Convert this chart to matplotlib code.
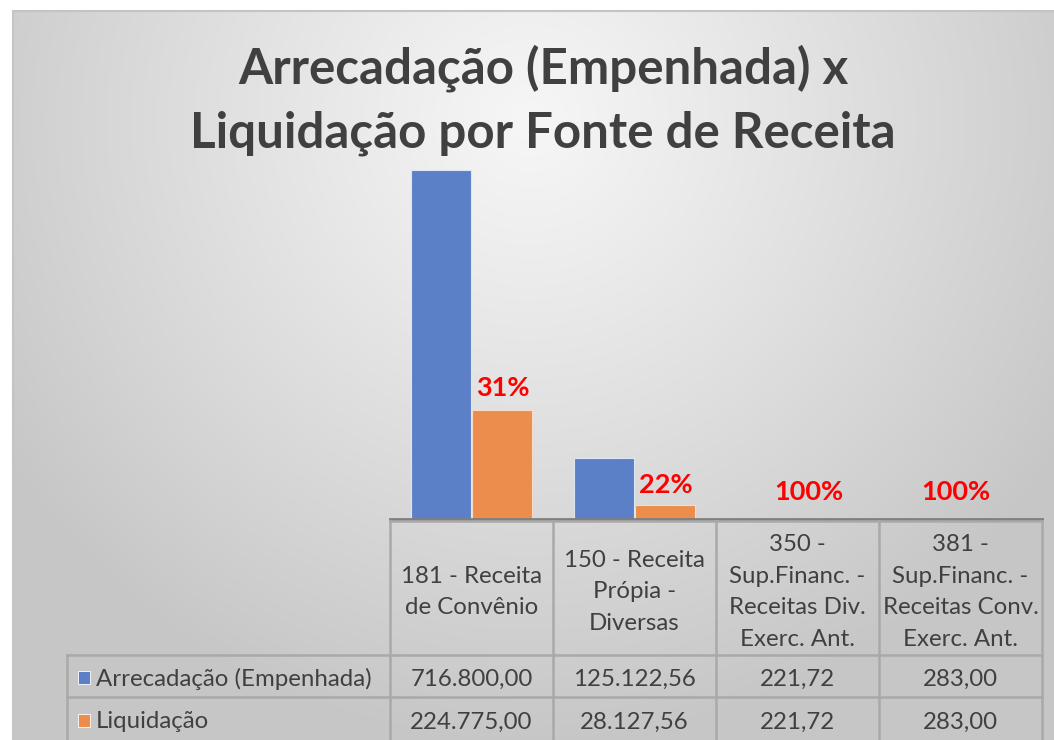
import numpy as np
import matplotlib
matplotlib.use("Agg")
import matplotlib.pyplot as plt
from matplotlib.patches import Rectangle

# ---------------- data ----------------
categories = ["181 - Receita\nde Convênio",
              "150 - Receita\nPrópia -\nDiversas",
              "350 -\nSup.Financ. -\nReceitas Div.\nExerc. Ant.",
              "381 -\nSup.Financ. -\nReceitas Conv.\nExerc. Ant."]
series_names = ["Arrecadação (Empenhada)", "Liquidação"]
arrecadacao = [716800.00, 125122.56, 221.72, 283.00]
liquidacao = [224775.00, 28127.56, 221.72, 283.00]
pct_labels = ["31%", "22%", "100%", "100%"]
title_lines = ["Arrecadação (Empenhada) x", "Liquidação por Fonte de Receita"]


def br(v):
    s = f"{v:,.2f}"
    return s.replace(",", "X").replace(".", ",").replace("X", ".")


W, H = 1054, 740
fig = plt.figure(figsize=(W / 100, H / 100), dpi=100)
fig.patch.set_facecolor("white")


def rect(x0, y0, x1, y1):
    # pixel coords (top-left origin) -> figure fraction rect
    return [x0 / W, 1 - y1 / H, (x1 - x0) / W, (y1 - y0) / H]


# ---------------- background gradient ----------------
bg = fig.add_axes(rect(12, 10, W, H), zorder=0)
bx0, by0 = 12, 10
xs = np.linspace(bx0, W, 400)
ys = np.linspace(by0, H, 300)
X, Y = np.meshgrid(xs, ys)
cx, cy = 530, 120
d = np.sqrt(((X - cx) / 620) ** 2 + ((Y - cy) / 620) ** 2)
d = np.clip(d, 0, 1)
light, dark = 0.965, 0.78
val = light - (light - dark) * d ** 1.1
img = np.dstack([val, val, val])
bg.imshow(img, extent=[bx0, W, H, by0], aspect="auto", interpolation="bilinear")
bg.set_xlim(bx0, W)
bg.set_ylim(H, by0)
bg.axis("off")

# overlay axes in pixel coordinates for borders and table
ov = fig.add_axes([0, 0, 1, 1], zorder=3)
ov.set_xlim(0, W)
ov.set_ylim(H, 0)
ov.axis("off")
ov.patch.set_alpha(0)

# chart border
ov.plot([12, W], [11, 11], color="#c4c4c4", lw=1.5, solid_capstyle="butt")
ov.plot([12.5, 12.5], [10, H], color="#c4c4c4", lw=1.5, solid_capstyle="butt")

# ---------------- title ----------------
for yb, line in zip([84, 148], title_lines):
    ov.text(543, yb, line, ha="center", va="baseline", fontsize=35.5,
            fontweight="bold", family=["Lato", "DejaVu Sans"], color="#404040")

# ---------------- bars ----------------
col_edges = [390, 553, 716, 879, 1042]
ax = fig.add_axes(rect(390, 130, 1042, 519), zorder=2)
ax.patch.set_alpha(0)
n = len(categories)
x = np.arange(n)
bw = 0.368
blue = "#5b80c8"
orange = "#ec8d4e"
ax.bar(x - 0.19, arrecadacao, bw, color=blue, edgecolor="#dfe6f3", linewidth=0.8)
ax.bar(x + 0.19, liquidacao, bw, color=orange, edgecolor="#f6dcc9", linewidth=0.8)
ax.set_xlim(-0.5, n - 0.5)
ax.set_ylim(0, 800000)
for s in ["top", "right", "left"]:
    ax.spines[s].set_visible(False)
ax.spines["bottom"].set_color("#7f7f7f")
ax.spines["bottom"].set_linewidth(2)
ax.set_xticks([])
ax.set_yticks([])

label_dx = [0.19, 0.19, 0.07, -0.03]
label_dy = [22, 20, 27, 27]
for i, (v, lab) in enumerate(zip(liquidacao, pct_labels)):
    ax.annotate(lab, (i + label_dx[i], v), xytext=(0, label_dy[i] * 0.72),
                textcoords="offset points", ha="center", va="center",
                fontsize=19.5, fontweight="bold", color="#ff0000",
                family=["Lato", "DejaVu Sans"])

# ---------------- data table ----------------
grid_c = "#a9a9a9"
lw = 1.8
top_t, hdr_b, r1_b = 521, 655, 697
left_lab = 67
# horizontal lines
ov.plot([col_edges[0], col_edges[-1]], [top_t, top_t], color=grid_c, lw=lw)
ov.plot([left_lab, col_edges[-1]], [hdr_b, hdr_b], color=grid_c, lw=lw)
ov.plot([left_lab, col_edges[-1]], [r1_b, r1_b], color=grid_c, lw=lw)
# vertical lines
for xe in col_edges:
    ov.plot([xe, xe], [top_t, H], color=grid_c, lw=lw)
ov.plot([left_lab, left_lab], [hdr_b, H], color=grid_c, lw=lw)

tfont = dict(family=["Lato", "DejaVu Sans"], fontsize=17.3, color="#404040")
line_h = 31.7
for i, cat in enumerate(categories):
    xc = (col_edges[i] + col_edges[i + 1]) / 2
    parts = cat.split("\n")
    m = len(parts)
    for k, p in enumerate(parts):
        yc = 590 + (k - (m - 1) / 2) * line_h
        ov.text(xc, yc, p, ha="center", va="center_baseline", **tfont)

row_y = [677, 720]
colors = [blue, orange]
for r, (name, vals) in enumerate(zip(series_names, [arrecadacao, liquidacao])):
    ov.add_patch(Rectangle((78, row_y[r] - 6.5), 12, 13, facecolor=colors[r],
                           edgecolor="white", lw=0.6))
    ov.text(96, row_y[r], name, ha="left", va="center_baseline", **tfont)
    for i, v in enumerate(vals):
        xc = (col_edges[i] + col_edges[i + 1]) / 2
        ov.text(xc, row_y[r], br(v), ha="center", va="center_baseline", **tfont)

fig.savefig("out.png", dpi=100)
